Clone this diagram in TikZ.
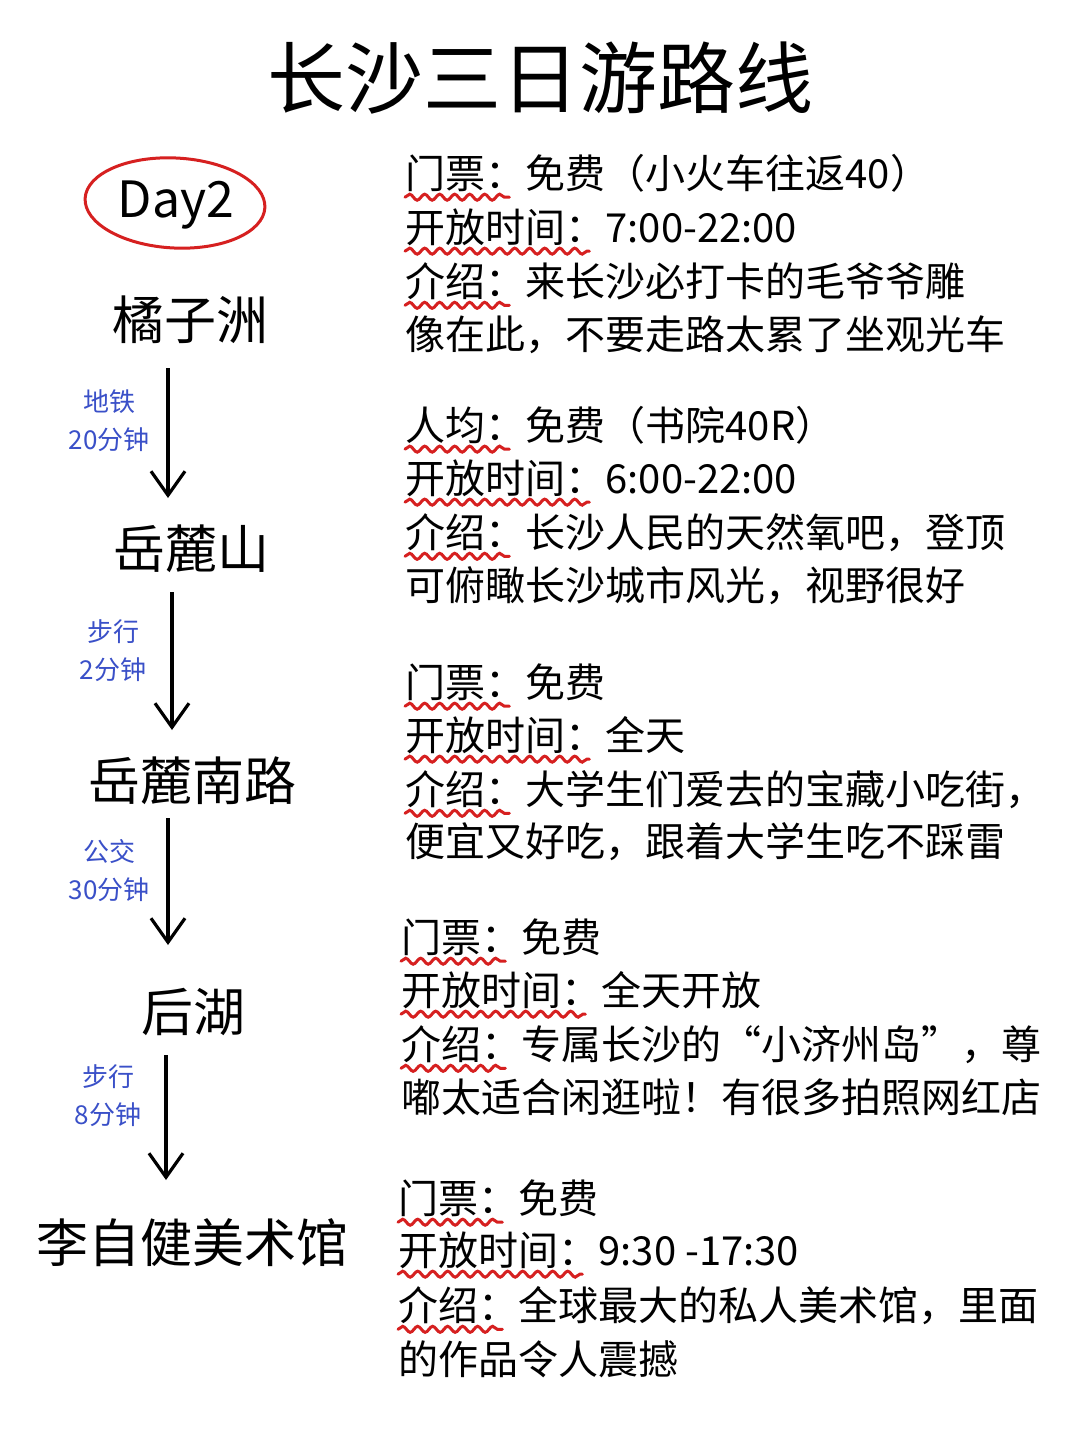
\documentclass[tikz,border=0pt]{standalone}
\usepackage{fontspec}
\setmainfont{Noto Sans CJK SC}
\usetikzlibrary{arrows.meta,decorations.pathmorphing,shapes.geometric}
\definecolor{hwred}{RGB}{214,32,32}
\definecolor{hwblue}{RGB}{58,80,200}
\newcommand\infoline[5]{%
  \node[info,anchor=west] (#1l) at (#2,#3) {#4};
  \node[info,anchor=base west] (#1r) at (#1l.base east) {#5};
  \draw[wavy] ([yshift=-9pt]#1l.base west) -- ([yshift=-9pt,xshift=-16pt]#1l.base east);
}
\newcommand\plainline[4]{%
  \node[info,anchor=west] (#1) at (#2,#3) {#4};
}
\begin{document}
\begin{tikzpicture}[x=1pt,y=-1pt,
  info/.style={inner sep=0pt,font=\fontsize{40}{48}\selectfont},
  place/.style={inner sep=0pt,font=\fontsize{52}{60}\selectfont},
  how/.style={inner sep=0pt,text=hwblue,align=center,font=\fontsize{26}{38}\selectfont},
  wavy/.style={hwred,line width=3pt,line cap=round,decorate,decoration={snake,amplitude=3pt,segment length=15pt}},
  flow/.style={line width=3.2pt,-{Straight Barb[length=24pt,width=34pt,line width=3.2pt]}}]
\fill[white] (0,0) rectangle (1080,1439);
\useasboundingbox (0,0) rectangle (1080,1439);
% title
\node[inner sep=0pt,font=\fontsize{78}{90}\selectfont] (title) at (540,78) {长沙三日游路线};
% day badge
\node[draw=hwred,line width=3pt,ellipse,minimum width=180pt,minimum height=90pt,inner sep=0pt,rotate=-3] (day) at (175,203) {};
\node[inner sep=0pt,font=\fontsize{50}{60}\selectfont] (daytxt) at (176,205) {Day2};
% places
\node[place] (p1) at (190,320) {橘子洲};
\node[place] (p2) at (191,549) {岳麓山};
\node[place] (p3) at (192,781) {岳麓南路};
\node[place] (p4) at (193,1012) {后湖};
\node[place] (p5) at (192,1243) {李自健美术馆};
% arrows
\coordinate (a1s) at (168,368); \coordinate (a1e) at (168,498);
\coordinate (a2s) at (172,592); \coordinate (a2e) at (172,730);
\coordinate (a3s) at (168,818); \coordinate (a3e) at (168,945);
\coordinate (a4s) at (166,1055); \coordinate (a4e) at (166,1180);
\draw[flow] (a1s) -- (a1e);
\draw[flow] (a2s) -- (a2e);
\draw[flow] (a3s) -- (a3e);
\draw[flow] (a4s) -- (a4e);
\node[how] (h1) at (109,421) {地铁\\20分钟};
\node[how] (h2) at (113,651) {步行\\2分钟};
\node[how] (h3) at (109,871) {公交\\30分钟};
\node[how] (h4) at (108,1096) {步行\\8分钟};
% block 1
\infoline{b1a}{405}{173}{门票：}{免费（小火车往返40）}
\infoline{b1b}{405}{227}{开放时间：}{7:00-22:00}
\infoline{b1c}{405}{281}{介绍：}{来长沙必打卡的毛爷爷雕}
\plainline{b1d}{405}{335}{像在此，不要走路太累了坐观光车}
% block 2
\infoline{b2a}{405}{425}{人均：}{免费（书院40R）}
\infoline{b2b}{405}{478}{开放时间：}{6:00-22:00}
\infoline{b2c}{405}{532}{介绍：}{长沙人民的天然氧吧，登顶}
\plainline{b2d}{405}{586}{可俯瞰长沙城市风光，视野很好}
% block 3
\infoline{b3a}{405}{682}{门票：}{免费}
\infoline{b3b}{405}{735}{开放时间：}{全天}
\infoline{b3c}{405}{789}{介绍：}{大学生们爱去的宝藏小吃街，}
\plainline{b3d}{405}{842}{便宜又好吃，跟着大学生吃不踩雷}
% block 4
\infoline{b4a}{401}{937}{门票：}{免费}
\infoline{b4b}{401}{990}{开放时间：}{全天开放}
\infoline{b4c}{401}{1044}{介绍：}{专属长沙的“小济州岛”，尊}
\plainline{b4d}{401}{1097}{嘟太适合闲逛啦！有很多拍照网红店}
% block 5
\infoline{b5a}{398}{1198}{门票：}{免费}
\infoline{b5b}{398}{1250}{开放时间：}{9:30 -17:30}
\infoline{b5c}{398}{1305}{介绍：}{全球最大的私人美术馆，里面}
\plainline{b5d}{398}{1359}{的作品令人震撼}
\end{tikzpicture}
\end{document}
